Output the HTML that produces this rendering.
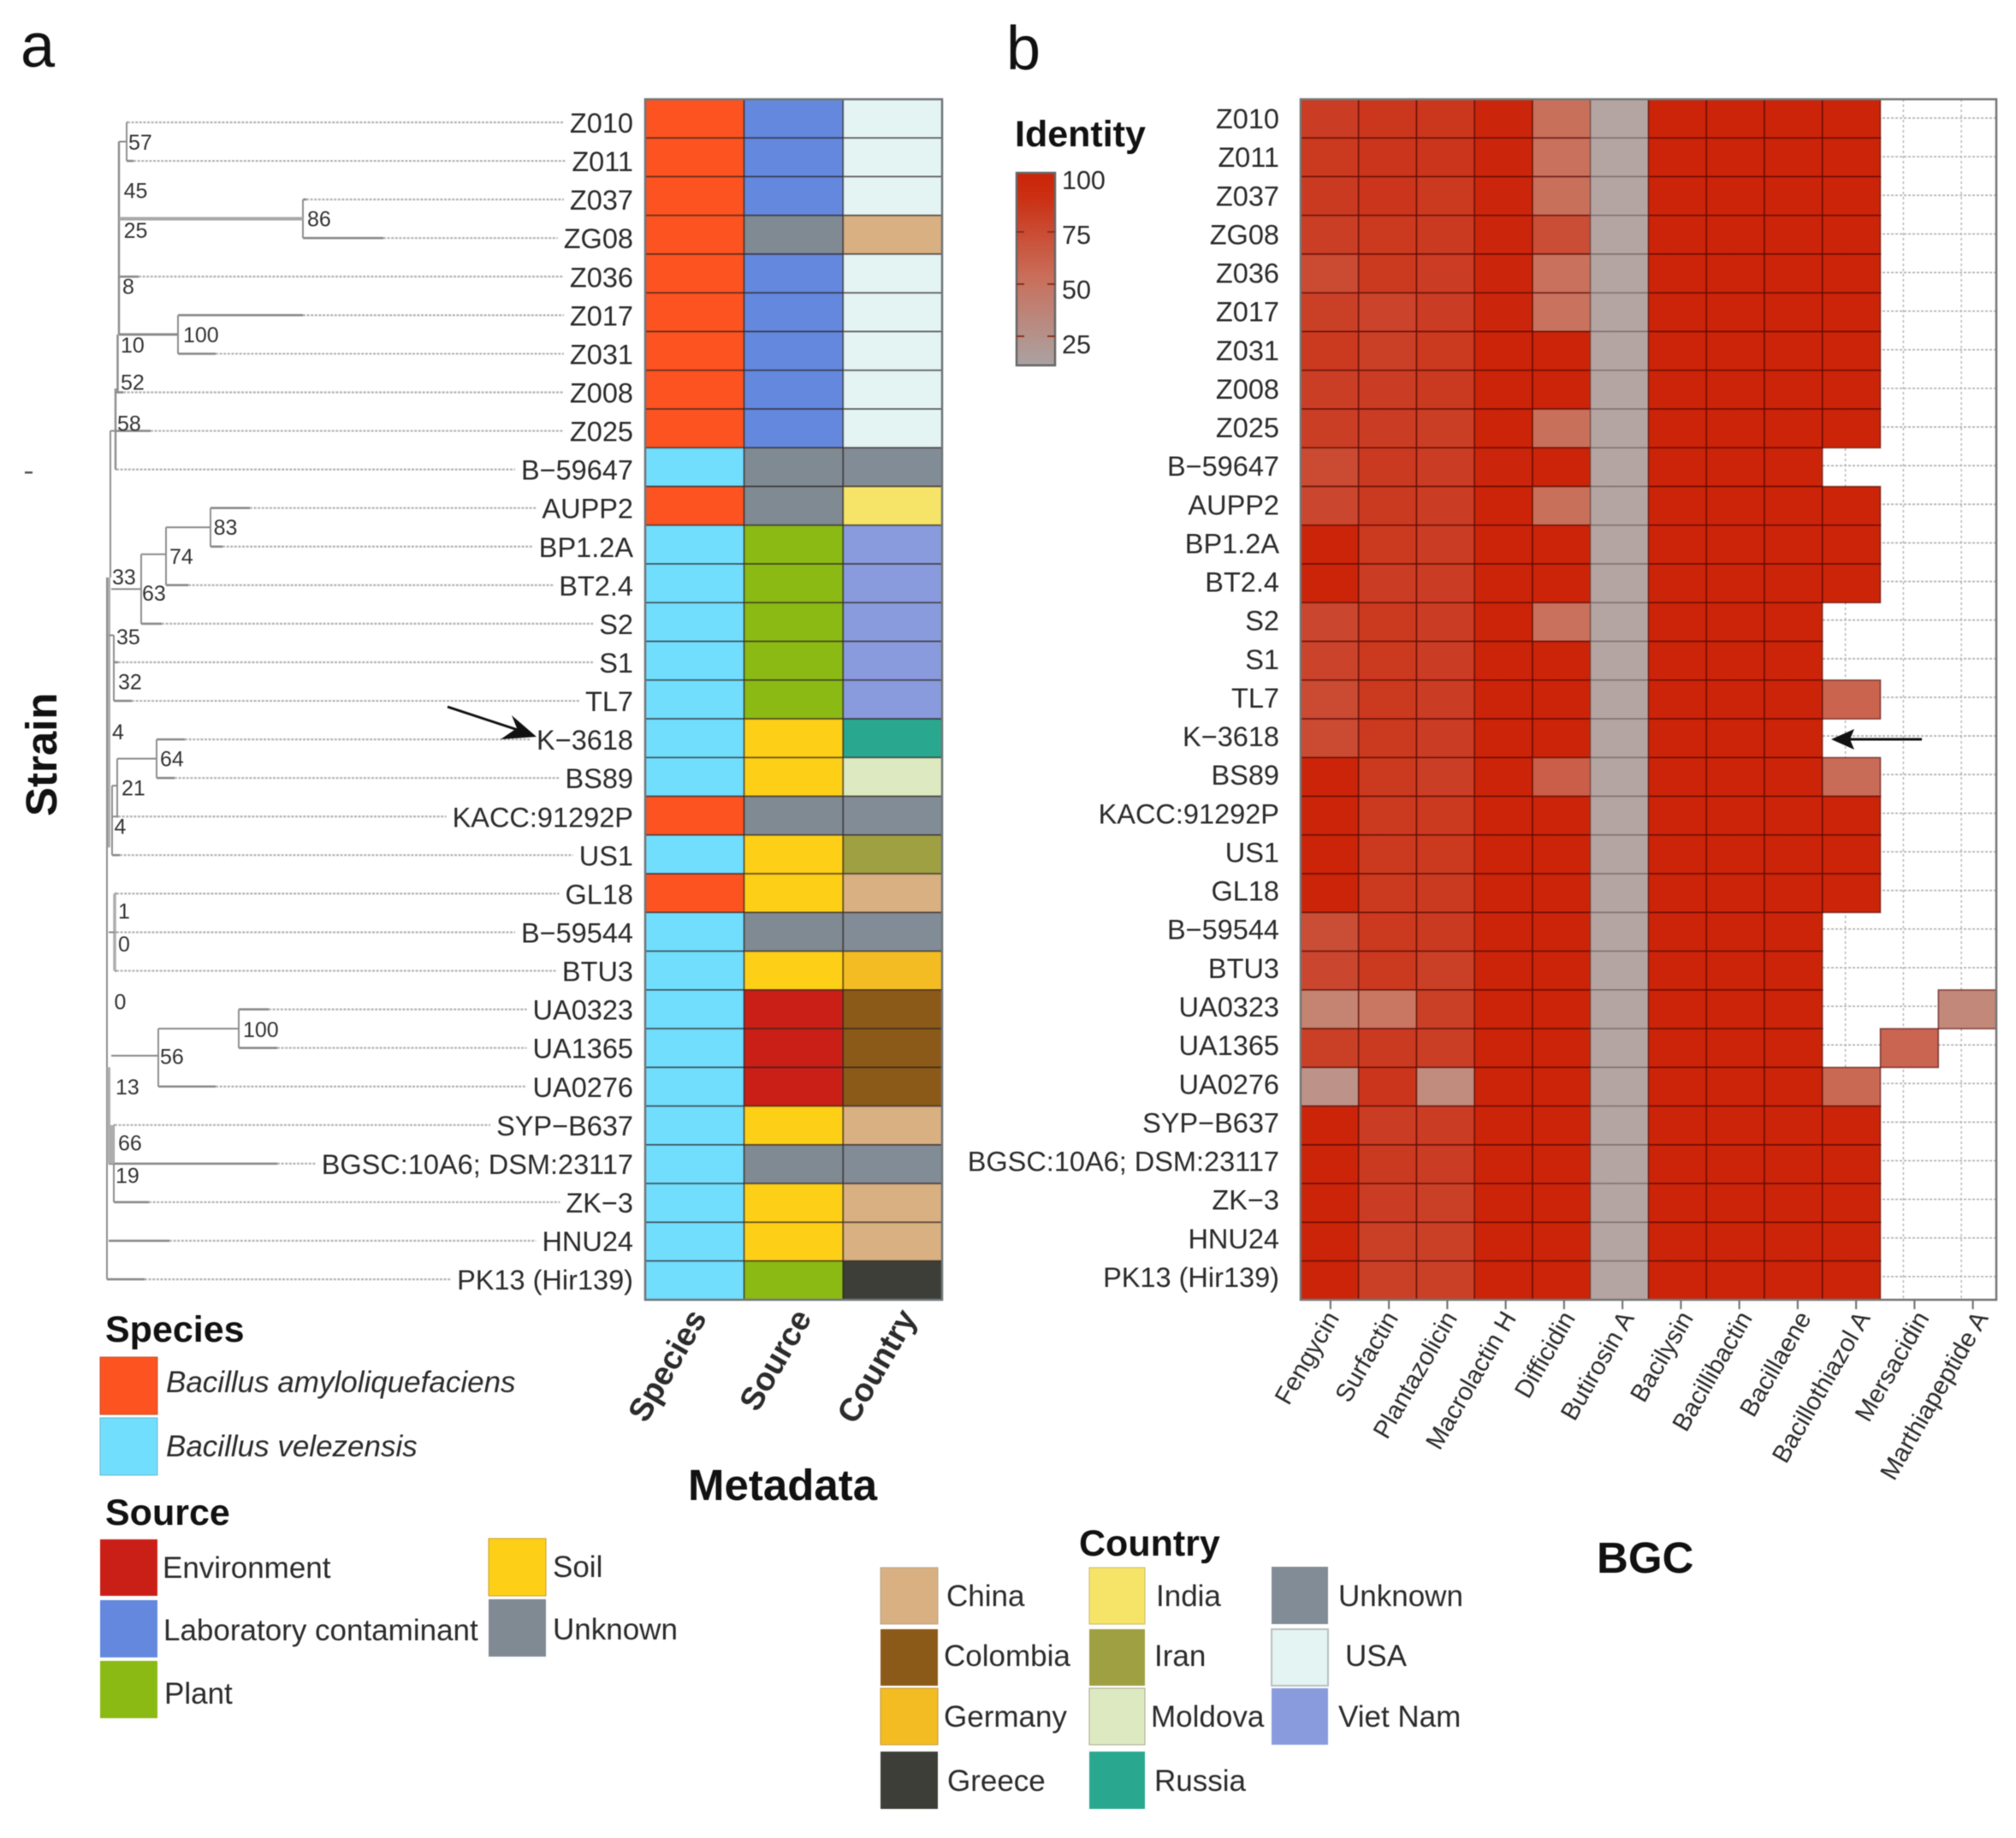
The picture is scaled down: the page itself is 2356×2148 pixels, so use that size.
<!DOCTYPE html>
<html lang="en">
<head>
<meta charset="utf-8">
<title>Strain metadata and BGC identity</title>
<style>
html,body{margin:0;padding:0;background:#fff;width:2356px;height:2148px;overflow:hidden}
svg{display:block;font-family:"Liberation Sans",Arial,sans-serif;filter:blur(.5px)}
.t{font-size:35px;fill:#2b2b2b}
.h{font-size:43px;font-weight:bold;fill:#111}
.b{font-size:51px;font-weight:bold;fill:#111}
</style>
</head>
<body>
<svg id="fig" xmlns="http://www.w3.org/2000/svg" width="2356" height="2148" viewBox="0 0 2356 2148">
<defs>
<linearGradient id="identityGradient" x1="0" y1="0" x2="0" y2="1">
<stop offset="0" stop-color="#cb2409"/><stop offset=".12" stop-color="#cb2f12"/><stop offset=".55" stop-color="#c9705c"/><stop offset="1" stop-color="#aaa3a3"/>
</linearGradient>
</defs>
<text x="24" y="78" font-size="72" fill="#111">a</text>
<text x="1176" y="81" font-size="72" fill="#111">b</text>
<text class="b" transform="translate(66,954) rotate(-90)">Strain</text>
<rect x="29" y="551" width="9" height="2.5" fill="#555"/>
<text class="b" x="804" y="1753">Metadata</text>
<text class="b" x="1866" y="1838">BGC</text>

<g id="tree"></g>
<g id="leftLabels"></g>
<g id="meta"></g>
<g id="heatGrid"></g>
<g id="heat"></g>
<g id="rightLabels"></g>
<g id="bgcAxis"></g>
<g id="colorbar"></g>

<line x1="523" y1="826" x2="605" y2="853" stroke="#111" stroke-width="3"/>
<polygon points="627,861 598,836 604,851 585,864" fill="#111"/>
<line x1="2246" y1="864" x2="2160" y2="864" stroke="#111" stroke-width="3"/>
<polygon points="2140,864 2167,852 2162,864 2167,876" fill="#111"/>

<g>
<text class="h" x="123" y="1568">Species</text>
<rect x="117" y="1586" width="67" height="67" fill="#fc5320" stroke="#c8522e"/>
<text class="t" x="194" y="1627" font-style="italic">Bacillus amyloliquefaciens</text>
<rect x="117" y="1657" width="67" height="67" fill="#72defe" stroke="#6cb6cf"/>
<text class="t" x="194" y="1702" font-style="italic">Bacillus velezensis</text>
</g>
<g>
<text class="h" x="123" y="1782">Source</text>
<rect x="117" y="1799" width="67" height="66" fill="#ca1f17"/>
<text class="t" x="190" y="1844">Environment</text>
<rect x="117" y="1870" width="67" height="67" fill="#6388dd"/>
<text class="t" x="191" y="1917">Laboratory contaminant</text>
<rect x="117" y="1941" width="67" height="67" fill="#8bba15"/>
<text class="t" x="192" y="1991">Plant</text>
<rect x="571" y="1798" width="67" height="67" fill="#fdcf17" stroke="#c9a02a"/>
<text class="t" x="646" y="1843">Soil</text>
<rect x="571" y="1869" width="67" height="67" fill="#808a93"/>
<text class="t" x="646" y="1916">Unknown</text>
</g>
<g>
<text class="h" x="1261" y="1818">Country</text>
<rect x="1029" y="1832" width="67" height="66" fill="#d8b081" stroke="#b9a58c"/>
<text class="t" x="1106" y="1877">China</text>
<rect x="1029" y="1904" width="67" height="66" fill="#8c5a18"/>
<text class="t" x="1103" y="1947">Colombia</text>
<rect x="1029" y="1973" width="67" height="66" fill="#f4bc23" stroke="#c09a3a"/>
<text class="t" x="1103" y="2018">Germany</text>
<rect x="1029" y="2047" width="67" height="67" fill="#3e3e38"/>
<text class="t" x="1107" y="2093">Greece</text>
<rect x="1273" y="1832" width="65" height="66" fill="#f6e469" stroke="#c9bb66"/>
<text class="t" x="1351" y="1877">India</text>
<rect x="1273" y="1904" width="65" height="66" fill="#9ea042"/>
<text class="t" x="1349" y="1947">Iran</text>
<rect x="1273" y="1973" width="65" height="66" fill="#dde9c0" stroke="#a8a890"/>
<text class="t" x="1345" y="2018">Moldova</text>
<rect x="1273" y="2047" width="65" height="67" fill="#2aa88f"/>
<text class="t" x="1349" y="2093">Russia</text>
<rect x="1486" y="1831" width="66" height="67" fill="#828c96"/>
<text class="t" x="1564" y="1877">Unknown</text>
<rect x="1486" y="1904" width="66" height="66" fill="#e3f4f2" stroke="#b8bfbe" stroke-width="2"/>
<text class="t" x="1572" y="1947">USA</text>
<rect x="1486" y="1973" width="66" height="66" fill="#899bdc"/>
<text class="t" x="1564" y="2018">Viet Nam</text>
</g>
</svg>
<script>
// ---- categories ----
const strains = ["Z010","Z011","Z037","ZG08","Z036","Z017","Z031","Z008","Z025","B\u221259647","AUPP2","BP1.2A","BT2.4","S2","S1","TL7","K\u22123618","BS89","KACC:91292P","US1","GL18","B\u221259544","BTU3","UA0323","UA1365","UA0276","SYP\u2212B637","BGSC:10A6; DSM:23117","ZK\u22123","HNU24","PK13 (Hir139)"];
const metaColumns = ["Species","Source","Country"];
const bgcNames = ["Fengycin","Surfactin","Plantazolicin","Macrolactin H","Difficidin","Butirosin A","Bacilysin","Bacillibactin","Bacillaene","Bacillothiazol A","Mersacidin","Marthiapeptide A"];
// ---- metadata values ----
const speciesValues = ["A","A","A","A","A","A","A","A","A","V","A","V","V","V","V","V","V","V","A","V","A","V","V","V","V","V","V","V","V","V","V"];
const sourceValues = ["Lab","Lab","Lab","Unknown","Lab","Lab","Lab","Lab","Lab","Unknown","Unknown","Plant","Plant","Plant","Plant","Plant","Soil","Soil","Unknown","Soil","Soil","Unknown","Soil","Env","Env","Env","Soil","Unknown","Soil","Soil","Plant"];
const countryValues = ["USA","USA","USA","China","USA","USA","USA","USA","USA","Unknown","India","VietNam","VietNam","VietNam","VietNam","VietNam","Russia","Moldova","Unknown","Iran","China","Unknown","Germany","Colombia","Colombia","Colombia","China","Unknown","China","China","Greece"];
const speciesColors = {A:"#fc5320",V:"#72defe"};
const sourceColors = {Env:"#ca1f17",Lab:"#6388dd",Plant:"#8bba15",Soil:"#fdcf17",Unknown:"#808a93"};
const countryColors = {China:"#d8b081",Colombia:"#8c5a18",Germany:"#f4bc23",Greece:"#3e3e38",India:"#f6e469",Iran:"#9ea042",Moldova:"#dde9c0",Russia:"#2aa88f",Unknown:"#828c96",USA:"#e3f4f2",VietNam:"#899bdc"};
// ---- BGC identity values (per strain, per BGC; null = absent) ----
const identity = [
[86,89,89,99,56,25,100,100,100,100,null,null],
[88,90,90,99,55,25,100,100,100,100,null,null],
[87,90,88,99,56,25,100,100,100,100,null,null],
[85,88,87,99,76,25,100,100,100,100,null,null],
[78,88,86,99,55,25,100,100,100,100,null,null],
[84,82,86,99,54,25,100,100,100,100,null,null],
[88,84,88,100,100,25,100,100,100,100,null,null],
[85,86,87,100,100,25,100,100,100,100,null,null],
[85,86,85,100,56,25,100,100,100,100,null,null],
[78,87,86,99,100,25,100,100,100,null,null,null],
[80,87,86,100,56,25,100,100,100,100,null,null],
[100,88,86,100,100,25,100,100,100,100,null,null],
[100,86,86,100,100,25,100,100,100,100,null,null],
[80,88,86,100,55,25,100,100,100,null,null,null],
[82,88,86,100,100,25,100,100,100,null,null,null],
[78,88,86,100,100,25,100,100,100,63,null,null],
[78,88,86,100,100,25,100,100,100,null,null,null],
[100,88,85,100,66,25,100,100,100,58,null,null],
[100,88,88,100,100,25,100,100,100,100,null,null],
[100,88,88,100,100,25,100,100,100,100,null,null],
[100,88,87,100,100,25,100,100,100,100,null,null],
[76,88,87,100,100,25,100,100,100,null,null,null],
[80,88,84,100,100,25,100,100,100,null,null,null],
[45,52,84,100,100,25,100,100,100,null,null,42],
[84,87,85,100,100,25,100,100,100,null,62,null],
[36,90,40,100,100,25,100,100,100,60,null,null],
[100,86,86,100,100,25,100,100,100,100,null,null],
[100,87,86,100,100,25,100,100,100,100,null,null],
[100,86,84,100,100,25,100,100,100,100,null,null],
[100,84,84,100,100,25,100,100,100,100,null,null],
[100,84,84,100,100,25,100,100,100,100,null,null]];
const colorbarTicks = [100,75,50,25];
// ---- tree: branch depths (tree units) and row positions ----
const tipParentDepth = [12,12,115,115,7.5,42,42,5.5,5.5,5.5,61,61,35,20.5,4.5,4.5,29.5,29.5,6,3.5,5,5,5,77.5,77.5,30.5,4.5,1.5,4.5,1.5,0.5];
const tipBranchEnd = [12.5,16,117,162,19,115,64,10,26,6,84,68,48,32.5,7,15,46,40,7,8,6,6,6,95,100,64,5,100,25,37,22.5];
const nodeDepth = [12,7.5,115,42,6.75,5.5,2.5,1.5,0.5,61,35,20.5,4.5,29.5,6.5,3.5,5,77.5,30.5,4.5,3.5,1.5];
const nodeRowTop = [0,0.5,2,5,5.5,6.9,8,11.8,11.8,10,10.5,11.2,13.3,16,16.5,17.2,20,23,23.5,26,26,24.5];
const nodeRowBottom = [1,5.5,3,6,7,9,11.8,18.8,30,11,12,13,15,17,18,19,22,24,25,28,27,27];
const nodeWidth = [2,2.5,2,2,2.5,2.5,2,4,2,2,2,2,2,2,2,2,3.5,2,2,2,5,4];
const stemRow = [0.5,2.5,5.5,8,10.5,11.2,12.1,13.3,16.5,17.2,18,21,23.5,24.2];
const stemFrom = [7.5,7.5,7.5,2.5,35,20.5,3,1.5,6.5,3.5,3.5,1.5,30.5,3];
const stemTo = [12,115,42,5.5,61,35,20.5,4.5,29.5,6.5,6,5,77.5,30.5];
const stemWidth = [2,4,3,2,2,2,2,2,2,2,2,2,2,2];
const bootstrapValues = [57,45,25,86,8,10,100,52,58,83,74,33,63,35,32,4,64,21,4,1,0,0,100,56,13,66,19];
const bootstrapDepth = [13,10.3,10.3,117.5,9.5,8.5,45,8.5,6.5,62.8,37,3.5,21,6,7,3.5,31.5,9,4.75,7,7,4.75,80,31.5,5.5,7,5.5];
const bootstrapRow = [0.51,1.76,2.8,2.5,4.25,5.77,5.5,6.73,7.8,10.5,11.25,11.78,12.2,13.34,14.5,15.8,16.5,17.25,18.25,20.45,21.3,22.8,23.52,24.22,25,26.46,27.3];

// ---- axis functions ----
const NS = "http://www.w3.org/2000/svg";
const xTree = d => 124 + d * 2;
const yTree = r => 143 + r * 45.07;
const HM_TOP = 116, HM_BOTTOM = 1519, ROW_H = (HM_BOTTOM - HM_TOP) / strains.length;
const yCell = r => HM_TOP + r * ROW_H;
const META_LEFT = 754, META_RIGHT = 1101, META_W = (META_RIGHT - META_LEFT) / metaColumns.length;
const xMeta = c => META_LEFT + c * META_W;
const BGC_LEFT = 1520, BGC_RIGHT = 2333, BGC_W = (BGC_RIGHT - BGC_LEFT) / bgcNames.length;
const xBgc = c => BGC_LEFT + c * BGC_W;
const yHeatLabel = r => 138 + r * 45.13;
const yBar = v => 210 + (100 - v) * 2.44;
const yBarLabel = v => 210 + (100 - v) * 2.56;
function mix(a, b, t) { return a.map((x, i) => Math.round(x + (b[i] - x) * t)); }
function identityColor(v) {
  const hi = [203,36,9], mid = [201,122,102], lo = [180,165,162];
  const c = v >= 50 ? mix(mid, hi, (v - 50) / 50) : mix(lo, mid, (v - 25) / 25);
  return "rgb(" + c.join(",") + ")";
}
function mk(parent, tag, attrs, text) {
  const el = document.createElementNS(NS, tag);
  for (const k in attrs) el.setAttribute(k, attrs[k]);
  if (text !== undefined) el.textContent = text;
  parent.appendChild(el);
  return el;
}
const $ = id => document.getElementById(id);
const font = 32.5;
const LEFT_LABEL_END = 740;

// strain labels, left
const leftEls = strains.map((s, r) => {
  const el = mk($("leftLabels"), "text", {x: LEFT_LABEL_END, y: yTree(r) + 12, "text-anchor": "end", "font-size": font, fill: "#2b2b2b"}, s);
  
  
  return el;
});

// tree tips
strains.forEach((s, r) => {
  const labelLeft = LEFT_LABEL_END - leftEls[r].getComputedTextLength();
  const y = yTree(r);
  const dotted = mk($("tree"), "line", {x1: xTree(tipBranchEnd[r]), x2: labelLeft - 7, y1: y, y2: y, stroke: "#b3b3b3", "stroke-width": 2.2, "stroke-dasharray": "3 1.6"});
  
  
  const solid = mk($("tree"), "line", {x1: xTree(tipParentDepth[r]), x2: xTree(tipBranchEnd[r]), y1: y, y2: y, stroke: "#8a8a8a", "stroke-width": 2.6});
  
  
});
// tree internal verticals
nodeDepth.forEach((d, i) => {
  const v = mk($("tree"), "line", {x1: xTree(d), x2: xTree(d), y1: yTree(nodeRowTop[i]), y2: yTree(nodeRowBottom[i]), stroke: nodeWidth[i] >= 3.5 ? "#adadad" : "#8f8f8f", "stroke-width": nodeWidth[i]});
  
  
});
// tree internal stems
stemRow.forEach((r, i) => {
  const h = mk($("tree"), "line", {x1: xTree(stemFrom[i]), x2: xTree(stemTo[i]), y1: yTree(r), y2: yTree(r), stroke: stemWidth[i] >= 4 ? "#a8a8a8" : "#8a8a8a", "stroke-width": stemWidth[i]});
  
  
});
// bootstrap labels
bootstrapValues.forEach((b, i) => {
  const t = mk($("tree"), "text", {x: xTree(bootstrapDepth[i]), y: yTree(bootstrapRow[i]) + 9, "font-size": 25, fill: "#333"}, b);
  
  
});

// metadata heatmap
const metaSeries = [[speciesValues, speciesColors],[sourceValues, sourceColors],[countryValues, countryColors]];
metaSeries.forEach(([vals, cols], c) => {
  vals.forEach((v, r) => {
    const cell = mk($("meta"), "rect", {x: xMeta(c), y: yCell(r), width: META_W, height: ROW_H, fill: cols[v], stroke: "rgba(40,30,30,.55)", "stroke-width": 1.8});
    
    
  });
});
const metaFrame = mk($("meta"), "rect", {x: META_LEFT, y: HM_TOP, width: META_RIGHT - META_LEFT, height: HM_BOTTOM - HM_TOP, fill: "none", stroke: "#6f7478", "stroke-width": 2.5});


metaColumns.forEach((m, c) => {
  const cx = xMeta(c + 0.5);
  const t = mk($("meta"), "text", {transform: "translate(" + (cx + 15 + c * 7) + ",1540) rotate(-60)", "text-anchor": "end", "font-size": 38, "font-weight": "bold", fill: "#2b2b2b"}, m);
  
  
});

// BGC grid for empty cells
bgcNames.forEach((b, c) => {
  const l = mk($("heatGrid"), "line", {x1: xBgc(c + 0.5) - 7, x2: xBgc(c + 0.5) - 7, y1: HM_TOP, y2: HM_BOTTOM, stroke: "#bcbcbc", "stroke-width": 1.6, "stroke-dasharray": "3 3"});
  
  
});
strains.forEach((s, r) => {
  const l = mk($("heatGrid"), "line", {x1: BGC_LEFT, x2: BGC_RIGHT, y1: yHeatLabel(r), y2: yHeatLabel(r), stroke: "#b5b5b5", "stroke-width": 1.8, "stroke-dasharray": "3 2"});
  
  
});
// BGC heatmap
identity.forEach((row, r) => {
  row.forEach((v, c) => {
    if (v === null) return;
    const cell = mk($("heat"), "rect", {x: xBgc(c), y: yCell(r), width: BGC_W, height: ROW_H, fill: identityColor(v), stroke: v <= 30 ? "rgba(90,80,80,.45)" : "rgba(80,5,0,.6)", "stroke-width": 1.7});
    
    
  });
});
const heatFrame = mk($("heat"), "rect", {x: BGC_LEFT, y: HM_TOP, width: BGC_RIGHT - BGC_LEFT, height: HM_BOTTOM - HM_TOP, fill: "none", stroke: "#757575", "stroke-width": 2.5});


// right strain labels
strains.forEach((s, r) => {
  const t = mk($("rightLabels"), "text", {x: 1495, y: yHeatLabel(r) + 12, "text-anchor": "end", "font-size": font, fill: "#2b2b2b"}, s);
  
  
});
// BGC x axis
bgcNames.forEach((b, c) => {
  const cx = xBgc(c + 0.5) + 1 + c * 0.5;
  const tick = mk($("bgcAxis"), "line", {x1: cx, x2: cx, y1: HM_BOTTOM, y2: HM_BOTTOM + 11, stroke: "#777", "stroke-width": 2.2});
  
  
  const t = mk($("bgcAxis"), "text", {transform: "translate(" + (cx + 11 + c * 0.7) + ",1540) rotate(-60)", "text-anchor": "end", "font-size": 29.5, fill: "#2b2b2b"}, b);
  
  
});
// colour bar
const cbTitle = mk($("colorbar"), "text", {x: 1186, y: 171, "font-size": 43, "font-weight": "bold", fill: "#111"}, "Identity");


const cbRect = mk($("colorbar"), "rect", {x: 1188, y: 202, width: 45, height: 225, fill: "url(#identityGradient)", stroke: "#666", "stroke-width": 2.5});


colorbarTicks.forEach(v => {
  if (v < 100) {
    const a = mk($("colorbar"), "line", {x1: 1188, x2: 1197, y1: yBar(v), y2: yBar(v), stroke: "#8a3020", "stroke-width": 2});
    
    
    const b = mk($("colorbar"), "line", {x1: 1224, x2: 1233, y1: yBar(v), y2: yBar(v), stroke: "#8a3020", "stroke-width": 2});
    
    
  }
  const t = mk($("colorbar"), "text", {x: 1241, y: yBarLabel(v) + 11, "font-size": 30.5, fill: "#2b2b2b"}, v);
  
  
});
</script>
</body>
</html>
